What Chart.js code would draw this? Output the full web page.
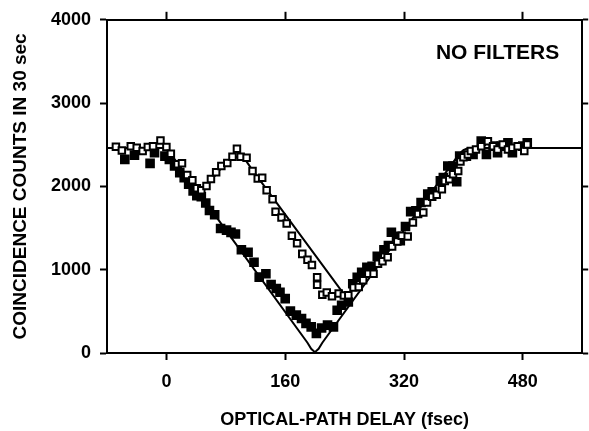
<!DOCTYPE html>
<html>
<head>
<meta charset="utf-8">
<script src="https://cdn.jsdelivr.net/npm/chart.js@4"></script>
<style>
  html, body { margin: 0; padding: 0; background: #fff; }
  #wrap { width: 589px; height: 431px; }
</style>
</head>
<body>
<div id="wrap"><canvas id="chart" width="589" height="431"></canvas></div>
<script>
// delay in fsec, counts in 30 sec
const filledX = [-56, -43, -22, -16, -2, 4, 11, 18, 24, 30, 36, 41, 47, 53, 58, 65, 73, 81, 87, 93,
  101, 110, 118, 125, 134, 141, 148, 153, 160, 167, 175, 182, 188, 195, 202, 209, 217, 225, 230, 236,
  245, 251, 257, 263, 270, 277, 284, 293, 299, 303, 310, 315, 322, 329, 336, 343, 352, 358, 369, 373,
  379, 386, 391, 395, 404, 413, 424, 431, 440, 446, 451, 460, 466, 480, 486];
const filledY = [2325, 2376, 2277, 2404, 2364, 2325, 2245, 2165, 2105, 2026, 1946, 1887, 1875, 1800, 1710, 1660, 1495, 1475, 1448, 1429,
  1240, 1210, 1090, 911, 952, 822, 775, 730, 653, 503, 454, 414, 355, 314, 235, 300, 334, 314, 513, 573,
  613, 832, 910, 970, 1030, 1040, 1160, 1240, 1290, 1449, 1400, 1349, 1518, 1697, 1707, 1807, 1907, 1936, 2066, 2106,
  2245, 2245, 2056, 2364, 2364, 2384, 2543, 2384, 2483, 2404, 2483, 2523, 2404, 2483, 2523];

const openX = [-68, -60, -48, -40, -32, -25, -18, -8, 0, 6, 15, 21, 28, 35, 41, 47, 54, 60, 67, 74,
  82, 89, 95, 100, 108, 116, 123, 129, 135, 143, 147, 155, 162, 169, 176, 183, 190, 196, 203, 203,
  210, 216, 223, 232, 239, 245, 252, 259, 265, 272, 279, 285, 291, 298, 304, 311, 317, 325, 332, 339,
  346, 351, 358, 364, 371, 375, 381, 386, 393, 396, 400, 406, 410, 417, 424, 433, 440, 446, 453, 460,
  466, 473, 482, 486];
const openY = [2475, 2432, 2483, 2464, 2424, 2472, 2483, 2551, 2472, 2392, 2265, 2277, 2137, 2074, 1978, 1954, 2006, 2090, 2170, 2245,
  2280, 2356, 2452, 2356, 2344, 2185, 2094, 2105, 1955, 1847, 1695, 1627, 1555, 1409, 1317, 1190, 1119, 1055, 908, 818,
  700, 725, 680, 713, 690, 693, 785, 792, 872, 952, 952, 1071, 1100, 1150, 1280, 1339, 1409, 1400, 1568, 1668,
  1687, 1806, 1876, 1900, 1966, 2066, 2086, 2146, 2185, 2300, 2350, 2384, 2424, 2444, 2483, 2543, 2483, 2444, 2504, 2444,
  2464, 2483, 2424, 2504];

// theory curves
const dipX = [-80, 0, 10, 100, 190, 195, 200, 205, 210, 300, 390, 395, 400, 405, 412, 560];
const dipY = [2460, 2460, 2340, 1230, 123, 50, 10, 50, 123, 1230, 2337, 2395, 2435, 2455, 2460, 2460];
const bumpX = [45, 55, 70, 85, 95, 105, 115, 248];
const bumpY = [1907, 2010, 2180, 2310, 2355, 2335, 2207, 598];

const xTicks = [0, 160, 320, 480];
const yTicks = [0, 1000, 2000, 3000, 4000];

const pts = (xs, ys) => xs.map((x, i) => ({ x: x, y: ys[i] }));

const FONT = 'Liberation Sans, Arial, Helvetica, sans-serif';

const noteText = {
  id: 'noteText',
  afterDraw(chart) {
    const ctx = chart.ctx;
    const a = chart.chartArea;
    ctx.save();
    ctx.font = 'bold 21px ' + FONT;
    ctx.fillStyle = '#000';
    ctx.textAlign = 'right';
    ctx.textBaseline = 'middle';
    ctx.fillText('NO FILTERS', a.right - 23, a.top + 33);
    ctx.restore();
  }
};

const setTicks = list => scale => { scale.ticks = list.map(v => ({ value: v })); };
const frameGrid = len => ({ drawOnChartArea: false, drawTicks: true, tickLength: len, tickWidth: 2, tickColor: '#000' });
const frameBorder = { display: true, color: '#000', width: 2 };

new Chart(document.getElementById('chart'), {
  type: 'scatter',
  data: {
    datasets: [
      {
        data: pts(openX, openY),
        order: 0,
        pointStyle: 'rect',
        radius: 4.6,
        backgroundColor: '#fff',
        borderColor: '#000',
        borderWidth: 2
      },
      {
        data: pts(filledX, filledY),
        order: 1,
        pointStyle: 'rect',
        radius: 6.8,
        backgroundColor: '#000',
        borderColor: '#000',
        borderWidth: 0
      },
      {
        data: pts(dipX, dipY),
        order: 2,
        showLine: true,
        pointRadius: 0,
        borderColor: '#000',
        borderWidth: 2,
        tension: 0
      },
      {
        data: pts(bumpX, bumpY),
        order: 3,
        showLine: true,
        pointRadius: 0,
        borderColor: '#000',
        borderWidth: 2,
        tension: 0
      }
    ]
  },
  options: {
    responsive: false,
    animation: false,
    layout: { padding: 0 },
    plugins: { legend: { display: false }, tooltip: { enabled: false } },
    scales: {
      x: {
        type: 'linear',
        position: 'bottom',
        min: -80,
        max: 560,
        afterBuildTicks: setTicks(xTicks),
        afterFit: s => { s.height = 78; },
        border: frameBorder,
        grid: frameGrid(7),
        ticks: { color: '#000', font: { family: FONT, size: 18, weight: 'bold' }, padding: 11, maxRotation: 0, callback: v => String(v) },
        title: { display: true, text: 'OPTICAL-PATH DELAY (fsec)', color: '#000', font: { family: FONT, size: 18, weight: 'bold' }, padding: 0 }
      },
      x2: {
        type: 'linear',
        position: 'top',
        min: -80,
        max: 560,
        afterBuildTicks: setTicks(xTicks),
        afterFit: s => { s.height = 18; },
        border: frameBorder,
        grid: frameGrid(8),
        ticks: { display: false }
      },
      y: {
        type: 'linear',
        position: 'left',
        min: 0,
        max: 4000,
        afterBuildTicks: setTicks(yTicks),
        afterFit: s => { s.width = 107; },
        border: frameBorder,
        grid: frameGrid(7),
        ticks: { color: '#000', font: { family: FONT, size: 18, weight: 'bold' }, padding: 9, callback: v => String(v) },
        title: { display: true, text: 'COINCIDENCE COUNTS IN 30 sec', color: '#000', font: { family: FONT, size: 19, weight: 'bold' }, padding: { top: 9, bottom: 0 } }
      },
      y2: {
        type: 'linear',
        position: 'right',
        min: 0,
        max: 4000,
        afterBuildTicks: setTicks(yTicks),
        afterFit: s => { s.width = 4; },
        border: frameBorder,
        grid: frameGrid(6),
        ticks: { display: false }
      }
    }
  },
  plugins: [noteText]
});
</script>
</body>
</html>
